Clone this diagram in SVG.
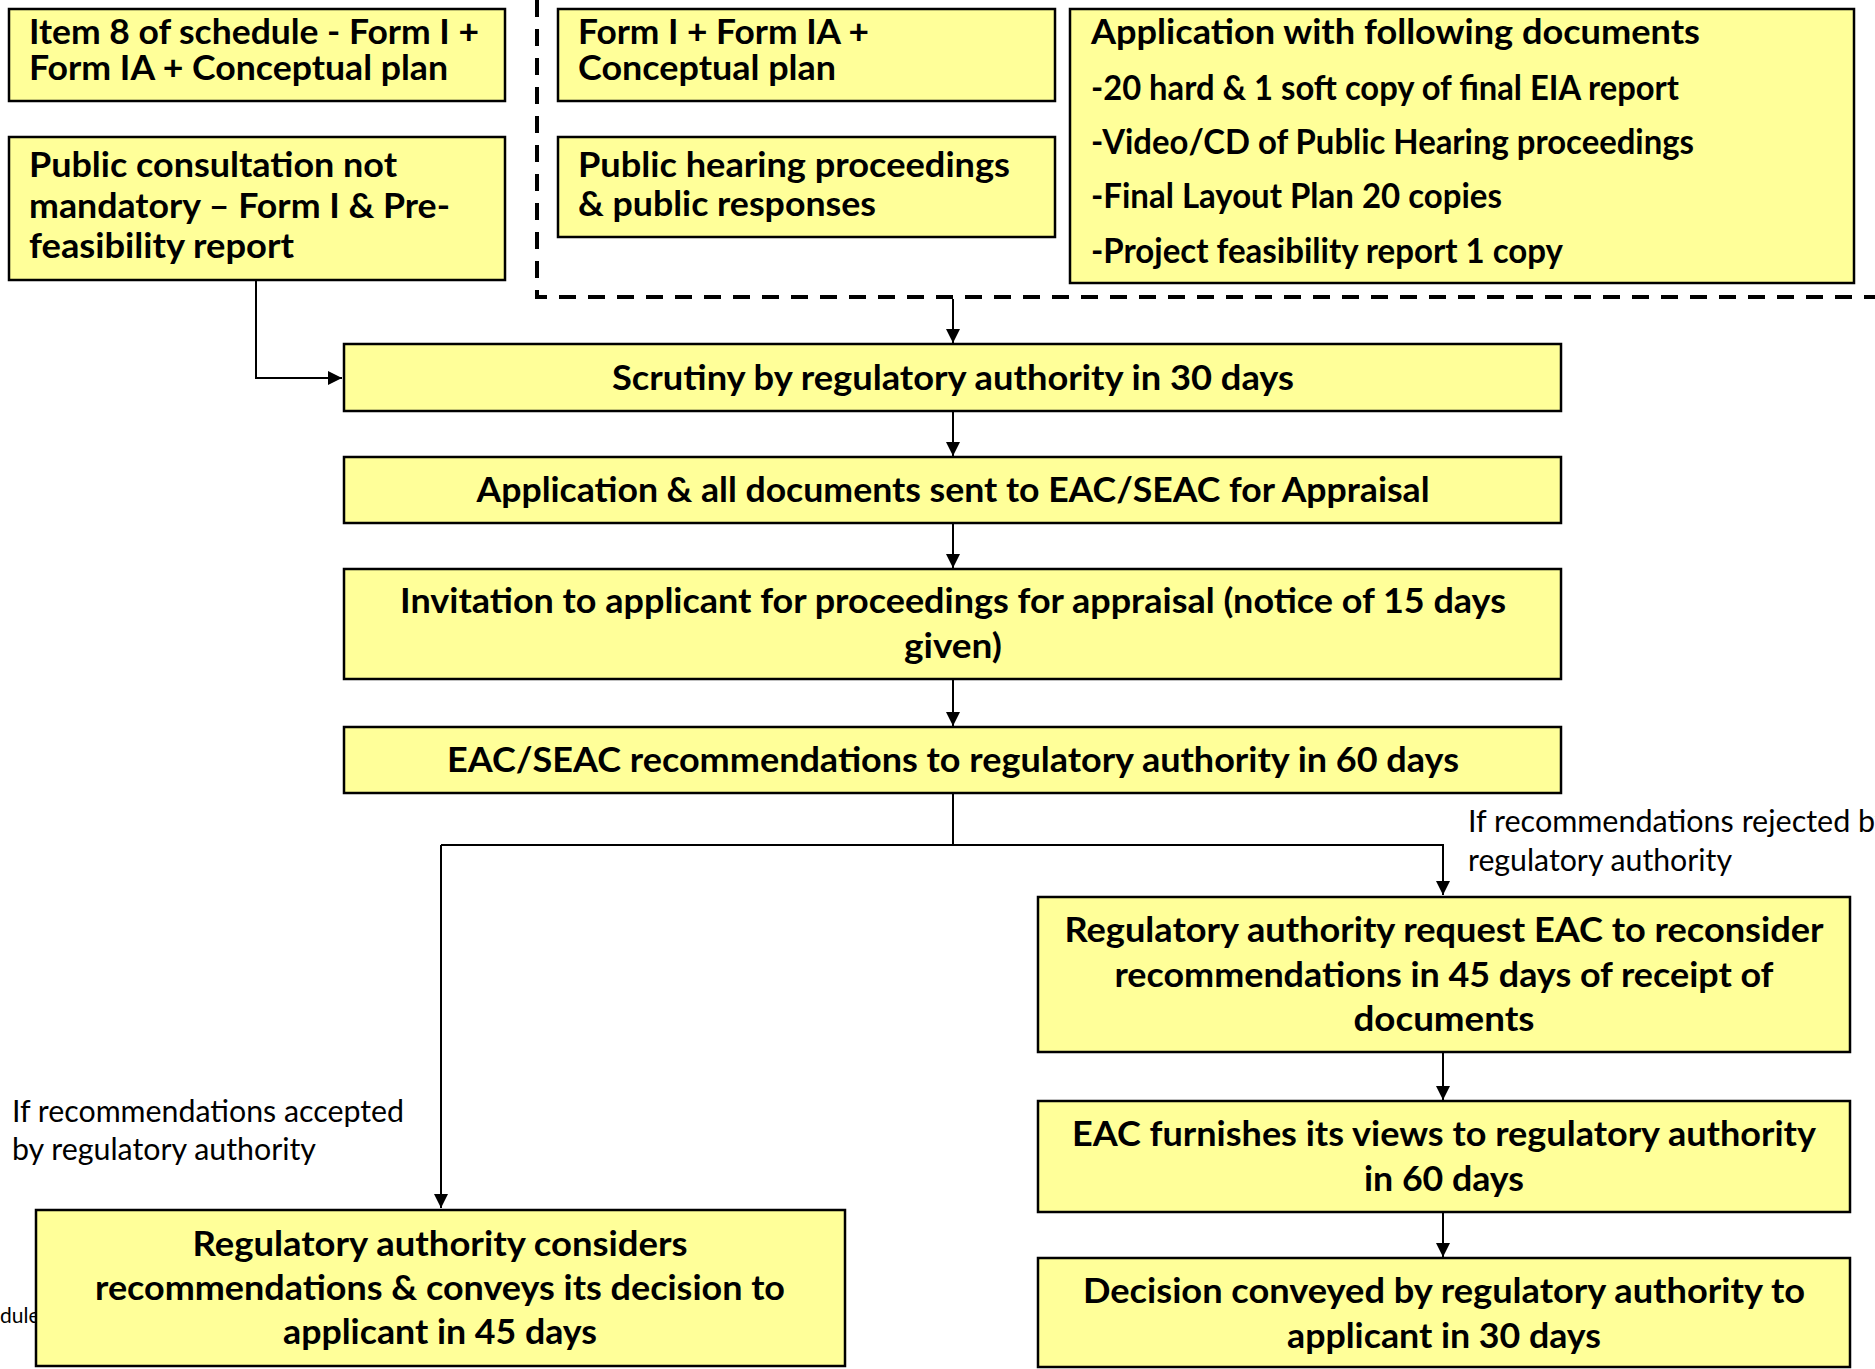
<svg xmlns="http://www.w3.org/2000/svg" width="1875" height="1369" viewBox="0 0 1875 1369">
<defs>
<style>
.box{fill:#FFFF99;stroke:#000;stroke-width:2.5}
.t{font-family:Lato,"Noto Sans","Liberation Sans",sans-serif;font-weight:bold;font-size:35px;fill:#000}
.c{text-anchor:middle}
.lbl{font-family:Lato,"Noto Sans","Liberation Sans",sans-serif;font-size:30.5px;fill:#000}
.ln{fill:none;stroke:#000;stroke-width:2}
.dash{fill:none;stroke:#000;stroke-width:4;stroke-dasharray:17 12}
</style>
<marker id="ah" viewBox="0 0 10 10" refX="10" refY="5" markerWidth="7.5" markerHeight="7" orient="auto" markerUnits="strokeWidth">
<path d="M0,0 L10,5 L0,10 Z" fill="#000"/>
</marker>
</defs>
<rect width="1875" height="1369" fill="#fff"/>
<text class="lbl" x="0" y="1323" style="font-size:21px">dule</text>

<g id="connectors">
<path class="dash" d="M537,0 V297 H1875"/>
<path class="ln" d="M256,280 V378 H342" marker-end="url(#ah)"/>
<path class="ln" d="M953,299 V343" marker-end="url(#ah)"/>
<path class="ln" d="M953,411 V456" marker-end="url(#ah)"/>
<path class="ln" d="M953,523 V568" marker-end="url(#ah)"/>
<path class="ln" d="M953,679 V726" marker-end="url(#ah)"/>
<path class="ln" d="M953,793 V845"/>
<path class="ln" d="M441,845 H1443 V895" marker-end="url(#ah)"/>
<path class="ln" d="M441,845 V1208" marker-end="url(#ah)"/>
<path class="ln" d="M1443,1052 V1100" marker-end="url(#ah)"/>
<path class="ln" d="M1443,1212 V1257" marker-end="url(#ah)"/>
</g>

<g id="n1"><rect class="box" x="9" y="9" width="496" height="92"/>
<text class="t" x="29" y="44" textLength="450" lengthAdjust="spacingAndGlyphs">Item 8 of schedule - Form I +</text>
<text class="t" x="29" y="80" textLength="419" lengthAdjust="spacingAndGlyphs">Form IA + Conceptual plan</text></g>

<g id="n2"><rect class="box" x="9" y="137" width="496" height="143"/>
<text class="t" x="29" y="177" textLength="368" lengthAdjust="spacingAndGlyphs">Public consultation not</text>
<text class="t" x="29" y="218" textLength="421" lengthAdjust="spacingAndGlyphs">mandatory – Form I &amp; Pre-</text>
<text class="t" x="29" y="258" textLength="265" lengthAdjust="spacingAndGlyphs">feasibility report</text></g>

<g id="n3"><rect class="box" x="558" y="9" width="497" height="92"/>
<text class="t" x="578" y="44" textLength="291" lengthAdjust="spacingAndGlyphs">Form I + Form IA +</text>
<text class="t" x="578" y="80" textLength="258" lengthAdjust="spacingAndGlyphs">Conceptual plan</text></g>

<g id="n4"><rect class="box" x="558" y="137" width="497" height="100"/>
<text class="t" x="578" y="177" textLength="432" lengthAdjust="spacingAndGlyphs">Public hearing proceedings</text>
<text class="t" x="578" y="216" textLength="298" lengthAdjust="spacingAndGlyphs">&amp; public responses</text></g>

<g id="n5"><rect class="box" x="1070" y="9" width="784" height="274"/>
<text class="t" x="1091" y="44" textLength="609" lengthAdjust="spacingAndGlyphs">Application with following documents</text>
<text class="t" x="1091" y="100" textLength="588" lengthAdjust="spacingAndGlyphs">-20 hard &amp; 1 soft copy of final EIA report</text>
<text class="t" x="1091" y="154" textLength="603" lengthAdjust="spacingAndGlyphs">-Video/CD of Public Hearing proceedings</text>
<text class="t" x="1091" y="208" textLength="411" lengthAdjust="spacingAndGlyphs">-Final Layout Plan 20 copies</text>
<text class="t" x="1091" y="263" textLength="472" lengthAdjust="spacingAndGlyphs">-Project feasibility report 1 copy</text></g>

<g id="n6"><rect class="box" x="344" y="344" width="1217" height="67"/>
<text class="t c" x="953" y="390" textLength="682" lengthAdjust="spacingAndGlyphs">Scrutiny by regulatory authority in 30 days</text></g>

<g id="n7"><rect class="box" x="344" y="457" width="1217" height="66"/>
<text class="t c" x="953" y="502" textLength="953" lengthAdjust="spacingAndGlyphs">Application &amp; all documents sent to EAC/SEAC for Appraisal</text></g>

<g id="n8"><rect class="box" x="344" y="569" width="1217" height="110"/>
<text class="t c" x="953" y="613" textLength="1106" lengthAdjust="spacingAndGlyphs">Invitation to applicant for proceedings for appraisal (notice of 15 days</text>
<text class="t c" x="953" y="658" textLength="98" lengthAdjust="spacingAndGlyphs">given)</text></g>

<g id="n9"><rect class="box" x="344" y="727" width="1217" height="66"/>
<text class="t c" x="953" y="772" textLength="1012" lengthAdjust="spacingAndGlyphs">EAC/SEAC recommendations to regulatory authority in 60 days</text></g>

<g id="n10"><rect class="box" x="1038" y="897" width="812" height="155"/>
<text class="t c" x="1444" y="942" textLength="759" lengthAdjust="spacingAndGlyphs">Regulatory authority request EAC to reconsider</text>
<text class="t c" x="1444" y="987" textLength="659" lengthAdjust="spacingAndGlyphs">recommendations in 45 days of receipt of</text>
<text class="t c" x="1444" y="1031" textLength="181" lengthAdjust="spacingAndGlyphs">documents</text></g>

<g id="n11"><rect class="box" x="1038" y="1101" width="812" height="111"/>
<text class="t c" x="1444" y="1146" textLength="744" lengthAdjust="spacingAndGlyphs">EAC furnishes its views to regulatory authority</text>
<text class="t c" x="1444" y="1191" textLength="160" lengthAdjust="spacingAndGlyphs">in 60 days</text></g>

<g id="n12"><rect class="box" x="1038" y="1258" width="812" height="109"/>
<text class="t c" x="1444" y="1303" textLength="722" lengthAdjust="spacingAndGlyphs">Decision conveyed by regulatory authority to</text>
<text class="t c" x="1444" y="1348" textLength="314" lengthAdjust="spacingAndGlyphs">applicant in 30 days</text></g>

<g id="n13"><rect class="box" x="36" y="1210" width="809" height="156"/>
<text class="t c" x="440" y="1256" textLength="495" lengthAdjust="spacingAndGlyphs">Regulatory authority considers</text>
<text class="t c" x="440" y="1300" textLength="690" lengthAdjust="spacingAndGlyphs">recommendations &amp; conveys its decision to</text>
<text class="t c" x="440" y="1344" textLength="314" lengthAdjust="spacingAndGlyphs">applicant in 45 days</text></g>

<g id="labels">
<text class="lbl" x="1468" y="832">If recommendations rejected by</text>
<text class="lbl" x="1468" y="871" textLength="264" lengthAdjust="spacingAndGlyphs">regulatory authority</text>
<text class="lbl" x="12" y="1122" textLength="392" lengthAdjust="spacingAndGlyphs">If recommendations accepted</text>
<text class="lbl" x="12" y="1160" textLength="304" lengthAdjust="spacingAndGlyphs">by regulatory authority</text>
</g>
</svg>
